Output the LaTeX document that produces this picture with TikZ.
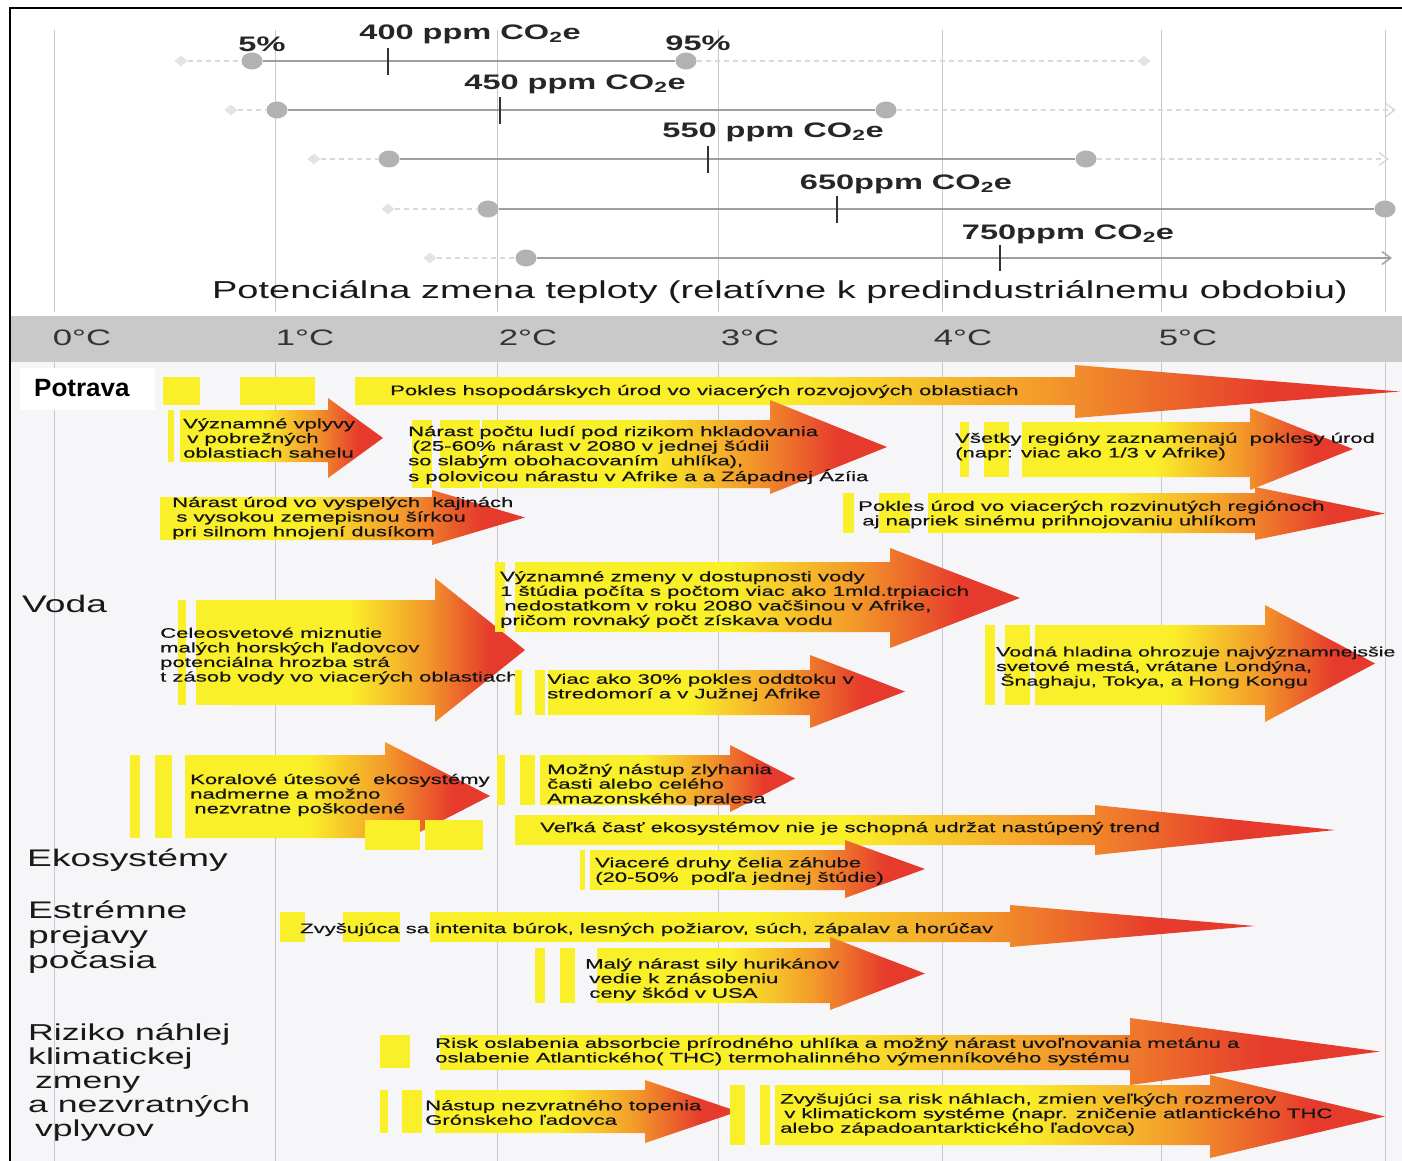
\documentclass[tikz,border=0pt]{standalone}
\usepackage{fontspec}
\setmainfont{Liberation Sans}[FakeStretch=1.55]
\newfontfamily\potfont{Liberation Sans}[FakeStretch=1.04]
\newfontfamily\arrfont{Liberation Sans}[FakeStretch=1.6,FakeBold=0.5]
\usetikzlibrary{arrows.meta,shapes.geometric}
\definecolor{ylw}{HTML}{FAF02A}
\definecolor{org}{HTML}{F39A2A}
\definecolor{rd}{HTML}{E63A2C}
\definecolor{bandgray}{HTML}{C9C9C9}
\definecolor{lowbg}{HTML}{F6F6F8}
\definecolor{gridc}{HTML}{C8C8CC}
\pgfdeclarehorizontalshading{heat}{100bp}{color(0bp)=(ylw); color(25bp)=(ylw); color(45bp)=(ylw); color(58bp)=(org); color(69bp)=(rd); color(75bp)=(rd); color(100bp)=(rd)}
\newcommand{\harrow}[7]{%
  \shade[shading=heat] (#1,#4) -- (#2,#4) -- (#2,#6) -- (#3,{(#6+#7)/2}) -- (#2,#7) -- (#2,#5) -- (#1,#5) -- cycle;}
\newcommand{\ybar}[4]{\fill[ylw] (#1,#3) rectangle (#2,#4);}
\tikzset{
  txt/.style={anchor=west, align=left, inner sep=0pt, yshift=-1.5pt, text=black!92, font=\arrfont\fontsize{13.8}{14.6}\selectfont},
  headtxt/.style={anchor=west, align=left, inner sep=0pt, text=black!90, font=\fontsize{24}{24.5}\selectfont},
  lab/.style={inner sep=0pt, text=black!85, font=\bfseries\fontsize{21}{24}\selectfont},
  axl/.style={inner sep=0pt, text=black!80, font=\fontsize{22.4}{24}\selectfont},
  captxt/.style={inner sep=0pt, text=black!90, font=\fontsize{24.5}{26}\selectfont},
  dmd/.style={shape=diamond, fill=gray!22, inner sep=0pt, minimum width=13pt, minimum height=11pt},
  dotn/.style={shape=ellipse, fill=gray!60, inner sep=0pt, minimum width=21pt, minimum height=17pt},
  sol/.style={draw=gray!75, line width=2.6pt},
  dsh/.style={draw=gray!30, line width=1.6pt, dash pattern=on 5pt off 4pt},
  tickln/.style={draw=black!80, line width=1.2pt},
  gridln/.style={draw=gridc, line width=1pt},
  barb/.style={-{Straight Barb[length=9pt,width=13pt,line width=1.4pt]}}
}
\begin{document}
\begin{tikzpicture}[x=1pt,y=-1pt]
\useasboundingbox (0,0) rectangle (1402,1161);
\fill[white] (0,0) rectangle (1402,1161);
% backgrounds
\fill[lowbg] (10,362) rectangle (1402,1161);
\fill[bandgray] (10,316) rectangle (1402,362);
% grid lines
\foreach \gx in {54,275,497,718,942,1161,1385}{
  \draw[gridln] (\gx,30) -- (\gx,312);
  \draw[gridln] (\gx,362) -- (\gx,1161);
}
% ---------- top scenario section ----------
\node[dmd] (d1l) at (181,61) {};
\node[dotn] (p1l) at (252,61) {};
\node[dotn] (p1r) at (686,61) {};
\node[dmd] (d1r) at (1144,61) {};
\draw[dsh] (d1l) -- (p1l);
\draw[sol] (p1l) -- (p1r);
\draw[dsh] (p1r) -- (d1r);
\draw[tickln] (388,48) -- (388,75);
\node[lab] (pc5) at (262,44) {5\%};
\node[lab] (l400) at (470,34) {400 ppm CO\textsubscript{2}e};
\node[lab] (pc95) at (698,43) {95\%};

\node[dmd] (d2l) at (231,110) {};
\node[dotn] (p2l) at (277,110) {};
\node[dotn] (p2r) at (886,110) {};
\coordinate (e2) at (1396,110);
\draw[dsh] (d2l) -- (p2l);
\draw[sol] (p2l) -- (p2r);
\draw[dsh,barb] (p2r) -- (e2);
\draw[tickln] (500,97) -- (500,124);
\node[lab] (l450) at (575,84) {450 ppm CO\textsubscript{2}e};

\node[dmd] (d3l) at (314,159) {};
\node[dotn] (p3l) at (389,159) {};
\node[dotn] (p3r) at (1086,159) {};
\coordinate (e3) at (1389,159);
\draw[dsh] (d3l) -- (p3l);
\draw[sol] (p3l) -- (p3r);
\draw[dsh,barb] (p3r) -- (e3);
\draw[tickln] (708,146) -- (708,173);
\node[lab] (l550) at (773,132) {550 ppm CO\textsubscript{2}e};

\node[dmd] (d4l) at (388,209) {};
\node[dotn] (p4l) at (488,209) {};
\node[dotn] (p4r) at (1385,209) {};
\draw[dsh] (d4l) -- (p4l);
\draw[sol] (p4l) -- (p4r);
\draw[tickln] (837,196) -- (837,223);
\node[lab] (l650) at (906,184) {650ppm CO\textsubscript{2}e};

\node[dmd] (d5l) at (430,258) {};
\node[dotn] (p5l) at (526,258) {};
\coordinate (e5) at (1392,258);
\draw[dsh] (d5l) -- (p5l);
\draw[sol,barb] (p5l) -- (e5);
\draw[tickln] (1000,245) -- (1000,271);
\node[lab] (l750) at (1068,234) {750ppm CO\textsubscript{2}e};

\node[captxt] (caption) at (780,292) {Potenciálna zmena teploty (relatívne k predindustriálnemu obdobiu)};

% axis labels
\node[axl] (c0) at (82,338) {0°C};
\node[axl] (c1) at (305,338) {1°C};
\node[axl] (c2) at (528,338) {2°C};
\node[axl] (c3) at (750,338) {3°C};
\node[axl] (c4) at (963,338) {4°C};
\node[axl] (c5) at (1188,338) {5°C};

% ---------- Potrava ----------
\fill[white] (20,368) rectangle (155,410);
\node[anchor=west, inner sep=0pt, text=black, font=\potfont\bfseries\fontsize{25}{26}\selectfont] (hpot) at (34,388) {Potrava};

\ybar{163}{200}{377}{405}\ybar{240}{315}{377}{405}
\harrow{355}{1075}{1400}{377}{405}{365}{418}
\node[txt] (t1) at (390,390) {Pokles hsopodárskych úrod vo viacerých rozvojových oblastiach};

\ybar{168}{174}{410}{462}
\harrow{180}{328}{383}{410}{462}{398}{478}
\node[txt] (t2) at (183,436.5) {Významné vplyvy\\\hspace*{.3em}v pobrežných\\oblastiach sahelu};

\ybar{412}{432}{420}{488}\ybar{440}{480}{420}{488}
\harrow{482}{770}{887}{420}{488}{400}{494}
\node[txt] (t3) at (408,453.5) {Nárast počtu ludí pod rizikom hkladovania\\\hspace*{.3em}(25-60\% nárast v 2080 v jednej šúdii\\so slabým obohacovaním\ \ uhlíka),\\s polovicou nárastu v Afrike a a Západnej Ázíia};

\ybar{960}{969}{422}{477}\ybar{984}{1009}{422}{477}
\harrow{1022}{1250}{1353}{422}{477}{408}{490}
\node[txt] (t4) at (955,445) {Všetky regióny zaznamenajú\ \ poklesy úrod\\(napr: viac ako 1/3 v Afrike)};

\harrow{160}{432}{525}{497}{540}{490}{545}
\node[txt] (t5) at (172,516.5) {Nárast úrod vo vyspelých\ \ kajinách\\\hspace*{.3em}s vysokou zemepisnou šírkou\\pri silnom hnojení dusíkom};

\ybar{843}{854}{493}{533}\ybar{879}{910}{493}{533}
\harrow{928}{1255}{1385}{493}{533}{487}{540}
\node[txt] (t6) at (858,513) {Pokles úrod vo viacerých rozvinutých regiónoch\\\hspace*{.3em}aj napriek sinému prihnojovaniu uhlíkom};

% ---------- Voda ----------
\node[headtxt] (hvoda) at (22,604) {Voda};

\ybar{178}{186}{600}{705}\ybar{196}{232}{600}{705}
\harrow{232}{435}{525}{600}{705}{578}{722}
\node[txt] (t7) at (160,654.5) {Celeosvetové miznutie\\malých horských ľadovcov\\potenciálna hrozba strá\\t zásob vody vo viacerých oblastiach};

\ybar{495}{505}{562}{632}\ybar{515}{530}{562}{632}
\harrow{530}{890}{1020}{562}{632}{548}{648}
\node[txt] (t8) at (500,598) {Významné zmeny v dostupnosti vody\\1 štúdia počíta s počtom viac ako 1mld.trpiacich\\\hspace*{.3em}nedostatkom v roku 2080 vačšinou v Afrike,\\pričom rovnaký počt získava vodu};

\ybar{515}{522}{670}{715}\ybar{535}{545}{670}{715}
\harrow{548}{810}{905}{670}{715}{655}{728}
\node[txt] (t9) at (547,686) {Viac ako 30\% pokles oddtoku v\\stredomorí a v Južnej Afrike};

\ybar{985}{995}{625}{705}\ybar{1005}{1030}{625}{705}
\harrow{1035}{1265}{1375}{625}{705}{605}{722}
\node[txt, font=\arrfont\fontsize{13.4}{14.6}\selectfont] (t10) at (996,666) {Vodná hladina ohrozuje najvýznamnejsšie\\svetové mestá, vrátane Londýna,\\\hspace*{.3em}Šnaghaju, Tokya, a Hong Kongu};

% ---------- Ekosystemy ----------
\node[headtxt] (heko) at (27,860) {Ekosystémy};

\ybar{130}{140}{755}{838}\ybar{155}{172}{755}{838}
\harrow{185}{385}{490}{755}{838}{742}{850}
\node[txt] (t11) at (190,793.5) {Koralové útesové\ \ ekosystémy\\nadmerne a možno\\\hspace*{.3em}nezvratne poškodené};

\ybar{497}{505}{755}{805}\ybar{520}{535}{755}{805}
\harrow{540}{730}{795}{755}{805}{745}{812}
\node[txt] (t12) at (547,783.5) {Možný nástup zlyhania\\časti alebo celého\\Amazonského pralesa};

\ybar{365}{420}{820}{850}\ybar{425}{483}{820}{850}
\harrow{515}{1095}{1335}{815}{845}{805}{855}
\node[txt] (t13) at (540,827) {Veľká časť ekosystémov nie je schopná udržat nastúpený trend};

\ybar{580}{585}{850}{890}\ybar{590}{600}{850}{890}
\harrow{600}{845}{925}{850}{890}{840}{898}
\node[txt] (t14) at (595,869.5) {Viaceré druhy čelia záhube\\(20-50\%\ \ podľa jednej štúdie)};

% ---------- Extremne ----------
\node[headtxt, font=\fontsize{24}{25}\selectfont] (hext) at (28,937) {Estrémne\\prejavy\\počasia};

\ybar{280}{305}{912}{942}\ybar{343}{400}{912}{942}
\harrow{430}{1010}{1255}{912}{942}{905}{947}
\node[txt] (t15) at (300,928) {Zvyšujúca sa intenita búrok, lesných požiarov, súch, zápalav a horúčav};

\ybar{535}{545}{948}{1003}\ybar{560}{575}{948}{1003}
\harrow{597}{830}{925}{948}{1003}{937}{1010}
\node[txt] (t16) at (585,978) {Malý nárast sily hurikánov\\\hspace*{.3em}vedie k znásobeniu\\\hspace*{.3em}ceny škód v USA};

% ---------- Riziko ----------
\node[headtxt, font=\fontsize{23}{24}\selectfont] (hriz) at (28,1082) {Riziko náhlej\\klimatickej\\\hspace*{.3em}zmeny\\a nezvratných\\\hspace*{.3em}vplyvov};

\ybar{380}{410}{1035}{1068}
\harrow{440}{1130}{1380}{1035}{1070}{1018}{1085}
\node[txt] (t17) at (435,1050) {Risk oslabenia absorbcie prírodného uhlíka a možný nárast uvoľnovania metánu a\\oslabenie Atlantického( THC) termohalinného výmenníkového systému};

\ybar{380}{388}{1090}{1133}\ybar{402}{422}{1090}{1133}
\harrow{435}{645}{738}{1090}{1133}{1080}{1143}
\node[txt] (t18) at (425,1111) {Nástup nezvratného topenia\\Grónskeho ľadovca};

\ybar{730}{745}{1085}{1145}\ybar{760}{770}{1085}{1145}
\harrow{775}{1210}{1385}{1085}{1145}{1075}{1158}
\node[txt] (t19) at (780,1113) {Zvyšujúci sa risk náhlach, zmien veľkých rozmerov\\\hspace*{.3em}v klimatickom systéme (napr. zničenie atlantického THC\\alebo západoantarktického ľadovca)};

% frame
\draw[line width=2.5pt, black] (10,1161) -- (10,8) -- (1402,8);
\end{tikzpicture}
\end{document}
